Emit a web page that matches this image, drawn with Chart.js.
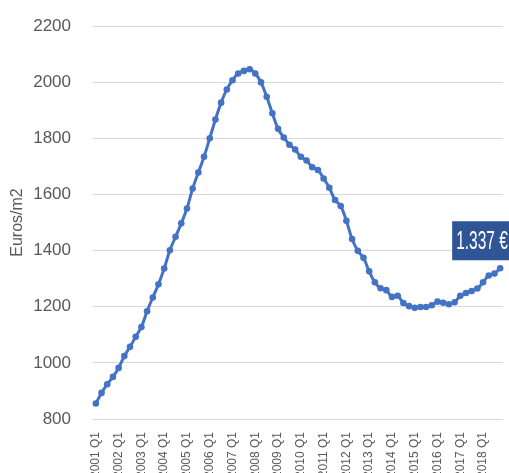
<!DOCTYPE html>
<html>
<head>
<meta charset="utf-8">
<script src="https://cdn.jsdelivr.net/npm/chart.js@4.4.1/dist/chart.umd.min.js"></script>
<style>
  html, body { margin: 0; padding: 0; background: #fff; }
  #wrap { width: 509px; height: 473px; }
</style>
</head>
<body>
<div id="wrap"><canvas id="priceChart" width="509" height="473"></canvas></div>
<script>
// quarters 2001 Q1 .. 2018 Q4
const years = [2001, 2002, 2003, 2004, 2005, 2006, 2007, 2008, 2009,
               2010, 2011, 2012, 2013, 2014, 2015, 2016, 2017, 2018];
const quarters = ['Q1', 'Q2', 'Q3', 'Q4'];

// euros/m2
const prices = [
  855, 893, 924, 950,
  982, 1024, 1057, 1093,
  1128, 1184, 1233, 1280,
  1336, 1401, 1449, 1497,
  1550, 1621, 1678, 1734,
  1800, 1867, 1927, 1974,
  2007, 2031, 2040, 2046,
  2031, 1999, 1948, 1889,
  1834, 1803, 1777, 1760,
  1734, 1721, 1697, 1687,
  1657, 1624, 1580, 1559,
  1506, 1441, 1399, 1374,
  1326, 1287, 1266, 1259,
  1235, 1239, 1213, 1202,
  1196, 1199, 1199, 1205,
  1218, 1214, 1209, 1216,
  1239, 1249, 1256, 1265,
  1287, 1311, 1318, 1337
];

const yMin = 800;
const yMax = 2200;
const yStep = 200;
const yTitle = 'Euros/m2';
const lastLabel = '1.337 €';

const labels = [];
years.forEach(y => quarters.forEach(q => labels.push(y + ' ' + q)));

const fontFamily = '"Liberation Sans", Arial, sans-serif';
Chart.defaults.font.family = fontFamily;
Chart.defaults.color = '#595959';

// dark blue box with the latest value
const lastValueLabel = {
  id: 'lastValueLabel',
  afterDatasetsDraw(chart) {
    const meta = chart.getDatasetMeta(0);
    const pt = meta.data[meta.data.length - 1];
    const ctx = chart.ctx;
    const boxX = pt.x - 48;
    const boxY = pt.y - 47;
    ctx.save();
    ctx.fillStyle = '#2F5597';
    ctx.fillRect(boxX, boxY, 80, 39);
    ctx.fillStyle = '#ffffff';
    ctx.font = '25px ' + fontFamily;
    ctx.textBaseline = 'middle';
    ctx.translate(boxX + 4, boxY + 21);
    ctx.scale(0.62, 1);
    ctx.fillText(lastLabel, 0, 0);
    ctx.restore();
  }
};

const ctx = document.getElementById('priceChart').getContext('2d');
const priceChart = new Chart(ctx, {
  type: 'line',
  data: {
    labels: labels,
    datasets: [{
      data: prices,
      borderColor: '#4472C4',
      backgroundColor: '#4472C4',
      borderWidth: 3,
      pointRadius: 3.3,
      pointBorderWidth: 0,
      tension: 0.4,
      fill: false
    }]
  },
  options: {
    responsive: false,
    animation: false,
    layout: { padding: { top: 26, right: 6, bottom: 0, left: 0 } },
    plugins: {
      legend: { display: false },
      tooltip: { enabled: false }
    },
    scales: {
      x: {
        offset: true,
        grid: { display: false },
        border: { display: false },
        afterFit: scale => {
          scale.height = 54;
          scale.paddingLeft = 0;
          scale.paddingRight = 0;
        },
        ticks: {
          autoSkip: false,
          minRotation: 90,
          maxRotation: 90,
          padding: 5,
          color: '#595959',
          font: { size: 12 },
          callback: function (value) {
            const lab = this.getLabelForValue(value);
            return lab.endsWith('Q1') ? lab : '';
          }
        }
      },
      y: {
        min: yMin,
        max: yMax,
        afterFit: scale => {
          scale.width = 93;
          scale.paddingTop = 0;
          scale.paddingBottom = 0;
        },
        grid: { color: '#D9D9D9', lineWidth: 1, drawTicks: false },
        border: { display: false },
        ticks: {
          stepSize: yStep,
          padding: 22,
          color: '#595959',
          font: { size: 17 },
          callback: value => String(value)
        },
        title: {
          display: true,
          text: yTitle,
          color: '#595959',
          font: { size: 16 },
          padding: { top: 8, bottom: 0 }
        }
      }
    }
  },
  plugins: [lastValueLabel]
});
</script>
</body>
</html>
